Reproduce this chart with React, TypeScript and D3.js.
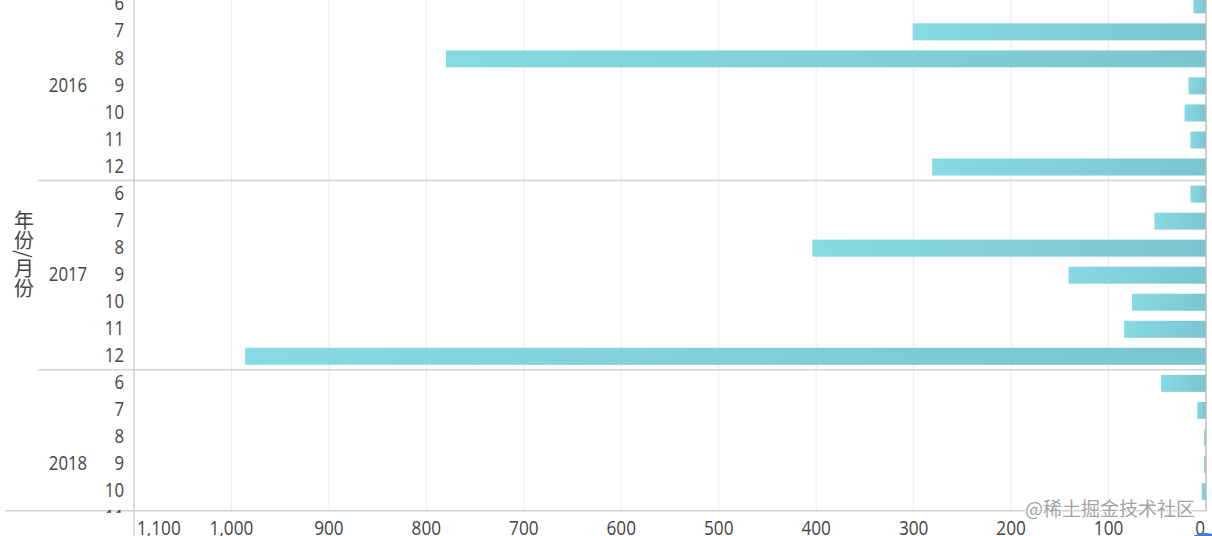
import React from 'react';
import * as d3 from 'd3';

const years = ['2016', '2017', '2018'];
const months = ['6', '7', '8', '9', '10', '11', '12'];
const values2016: (number | null)[] = [13, 301, 780, 18, 22, 16, 281];
const values2017: (number | null)[] = [16, 53, 404, 141, 76, 84, 986];
const values2018: (number | null)[] = [46, 9, 2, 2, 4.5, null, null];
const xTicks = [1100, 1000, 900, 800, 700, 600, 500, 400, 300, 200, 100, 0];
const axisTitle = '年份/月份';
const watermark = '@稀土掘金技术社区';

const W = 1212;
const H = 536;
const FONT = '"Open Sans", "Noto Sans", sans-serif';
const CJK = '"Noto Sans CJK SC", sans-serif';

export default function App() {
  const seriesByYear = [values2016, values2017, values2018];
  const rows = years.flatMap((y, yi) =>
    months.map((m, mi) => ({ key: `${y}-${m}`, year: y, month: m, value: seriesByYear[yi][mi] }))
  );

  const plotLeft = 134;
  const plotRight = 1206;
  const plotBottom = 510.7;
  const step = 27.04;
  const firstCenter = 4.8;
  const barH = 17;

  const x = d3.scaleLinear().domain([0, 1100]).range([plotRight, plotLeft]);
  const y = d3
    .scaleBand<string>()
    .domain(rows.map((r) => r.key))
    .range([firstCenter - step / 2, firstCenter - step / 2 + step * rows.length])
    .padding(0);

  const center = (k: string) => (y(k) as number) + y.bandwidth() / 2;
  const textColor = '#454545';

  return (
    <svg
      width={W}
      height={H}
      style={{ position: 'absolute', left: 0, top: 0, display: 'block', background: '#fff' }}
    >
      <defs>
        <linearGradient id="barGrad" x1="0" x2="1" y1="0" y2="0">
          <stop offset="0%" stopColor="#87d9e4" />
          <stop offset="100%" stopColor="#7ac5d2" />
        </linearGradient>
        <clipPath id="plotClip">
          <rect x={0} y={0} width={W} height={plotBottom} />
        </clipPath>
        <clipPath id="labelClip">
          <rect x={0} y={0} width={plotLeft} height={513} />
        </clipPath>
      </defs>

      {/* gridlines */}
      {xTicks
        .filter((t) => t !== 0 && t !== 1100)
        .map((t) => (
          <line key={`g${t}`} x1={x(t)} x2={x(t)} y1={0} y2={plotBottom} stroke="#ececec" strokeWidth={1} />
        ))}

      {/* bars */}
      <g clipPath="url(#plotClip)">
        {rows
          .filter((r) => r.value !== null)
          .map((r) => (
            <rect
              key={r.key}
              x={x(r.value as number)}
              y={center(r.key) - barH / 2}
              width={plotRight - x(r.value as number)}
              height={barH}
              fill="url(#barGrad)"
            />
          ))}
      </g>

      {/* group separators */}
      {years.slice(1).map((yr) => (
        <line
          key={`sep${yr}`}
          x1={38}
          x2={plotRight}
          y1={y(`${yr}-${months[0]}`) as number}
          y2={y(`${yr}-${months[0]}`) as number}
          stroke="#d4d4d4"
          strokeWidth={1.5}
        />
      ))}

      {/* axes lines */}
      <line x1={5} x2={plotRight} y1={plotBottom} y2={plotBottom} stroke="#cfcfcf" strokeWidth={1.5} />
      <line x1={plotLeft} x2={plotLeft} y1={0} y2={H} stroke="#cfcfcf" strokeWidth={1.5} />
      <line x1={plotRight} x2={plotRight} y1={0} y2={plotBottom} stroke="#bdbdbd" strokeWidth={1.5} />

      {/* y labels */}
      <g clipPath="url(#labelClip)" fill={textColor} fontFamily={FONT} fontSize={20}>
        {rows.map((r) => (
          <text
            key={`m${r.key}`}
            transform={`translate(124,${center(r.key) - 2.5}) scale(0.84,1)`}
            textAnchor="end"
            dominantBaseline="central"
          >
            {r.month}
          </text>
        ))}
        {years.map((yr) => (
          <text
            key={`y${yr}`}
            transform={`translate(68,${center(`${yr}-9`) - 2.5}) scale(0.84,1)`}
            textAnchor="middle"
            dominantBaseline="central"
          >
            {yr}
          </text>
        ))}
      </g>

      {/* axis title */}
      <text
        x={24}
        y={254}
        fill={textColor}
        fontFamily={CJK}
        fontSize={20}
        textAnchor="middle"
        style={{ writingMode: 'vertical-rl' }}
      >
        {axisTitle}
      </text>

      {/* x tick labels */}
      <g fill={textColor} fontFamily={FONT} fontSize={20}>
        {xTicks.map((t) => {
          const anchor = t === 1100 ? 'start' : t === 0 ? 'end' : 'middle';
          const px = t === 1100 ? x(t) + 3 : t === 0 ? x(t) - 1 : x(t);
          return (
            <text key={`x${t}`} transform={`translate(${px},535) scale(0.86,1)`} textAnchor={anchor}>
              {d3.format(',')(t)}
            </text>
          );
        })}
      </g>

      {/* watermark */}
      <text
        x={1195}
        y={516}
        textAnchor="end"
        fontFamily={CJK}
        fontSize={19}
        fill="#a3a3a3"
        stroke="#ffffff"
        strokeWidth={2}
        paintOrder="stroke"
      >
        {watermark}
      </text>
      <circle cx={1205} cy={556} r={23} fill="#3c7ed6" />
    </svg>
  );
}
